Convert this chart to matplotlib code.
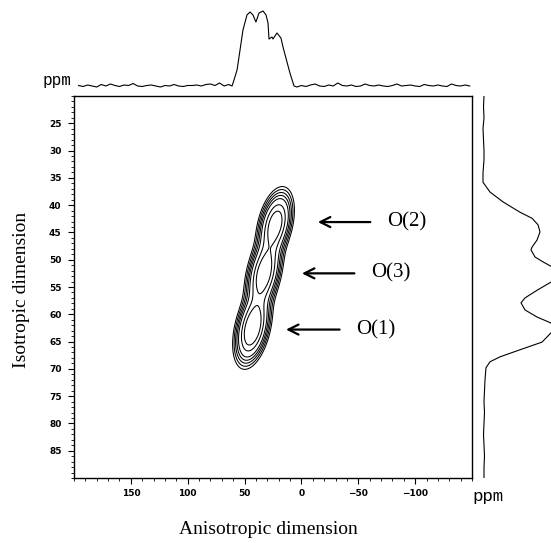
import matplotlib
matplotlib.use("Agg")
import matplotlib.pyplot as plt
import numpy as np
from matplotlib.ticker import MultipleLocator, FixedLocator

# ---- data ------------------------------------------------------------
# 2D ridge: one gaussian site per oxygen (anisotropic ppm, isotropic ppm)
site_names = ["O(1)", "O(2)", "O(3)"]
site_aniso = [43.0, 23.0, 33.0]
site_iso = [62.5, 43.5, 52.5]
site_amp = [1.0, 0.85, 0.9]
site_width_aniso = [6.8, 6.8, 6.8]
site_width_iso = [3.2, 3.0, 3.3]
ridge_shear = 0.9
contour_levels = [0.06, 0.09, 0.13, 0.18, 0.25, 0.42, 0.62]

# labels: arrow tail / head (aniso ppm) and isotropic position
label_iso = [62.8, 43.1, 52.5]
arrow_tail = [-36, -63, -49]
arrow_head = [16, -12, 2]

# top projection (anisotropic dimension), intensity in arbitrary units
top_ppm = [196, 192, 188, 184, 180, 176, 172, 168, 164, 160, 156, 152, 148,
           144, 140, 136, 132, 128, 124, 120, 116, 112, 108, 104, 100, 96,
           92, 88, 84, 80, 76, 72, 68, 64, 61,
           59.3, 56.6, 54, 51.4, 47.9, 45.2, 42.6, 40, 37.3, 33.8, 31.1,
           29.4, 28.5, 25.9, 25, 21.5, 18, 16.2, 12.7, 10.1, 6.5, 3.9,
           0, -4, -8, -12, -16, -20, -24, -28, -32, -36, -40, -44, -48, -52,
           -56, -60, -64, -68, -72, -76, -80, -84, -88, -92, -96, -100, -104,
           -108, -112, -116, -120, -124, -128, -132, -136, -140, -144, -148]
top_int = [0.5, -0.5, 1, 0, -1, 1.5, 0, 2, 0.5, -0.5, 1, 0.5, 2.5,
           0, -0.5, 0.5, 1, 0, -1, 0.5, 0, 1.5, 0, -0.5, 0.5, 0.5,
           1, 0, 1.5, 2, 0.5, 3, 0, 1.5, 0,
           6, 16, 36, 56, 71, 74, 71, 64, 73, 75, 71,
           63, 47, 49, 47, 53, 48, 39, 24, 13, 0, -1,
           0.5, -0.5, 1, 2, 0, -0.5, 1, 0, 3, 0.5, 0, 1, -0.5, 0,
           2, 0.5, 0, 1, 0, -0.5, 0.5, 2, 0, 0.5, 1, 0, -0.5,
           1.5, 0.5, 0, 1, 0, -0.5, 2, 0.5, 0, 1, 0]

# right projection (isotropic dimension)
right_ppm = [20, 22, 24, 26, 28, 30, 31.7, 34.1, 35.8, 37.6, 39.4, 41.3,
             42.4, 43.6, 44.9, 46.4, 47.7, 48.2, 49.5, 50.4, 51.2, 52.7,
             54.1, 55.6, 57.0, 57.9, 59.2, 60.5, 61.6, 62.5, 63.4, 65.1,
             66.5, 67.8, 68.7, 69.8, 72, 74, 76, 78, 80, 82, 84, 86, 88, 90]
right_int = [1, 0.5, 1, 0, 0.5, 1, 1, 0, 0, 7, 20, 37,
             49, 55, 57, 54, 49, 48, 52, 60, 68, 80,
             68, 54, 42, 38, 42, 54, 68, 76, 68, 59,
             37, 17, 7, 3, 2, 1.5, 1, 1.5, 1, 0.5, 1, 1.5, 1, 1]

x_ticks = [150, 100, 50, 0, -50, -100]
y_ticks = [25, 30, 35, 40, 45, 50, 55, 60, 65, 70, 75, 80, 85]

# ---- figure ------------------------------------------------------------
W, H = 551, 543
fig = plt.figure(figsize=(W / 100, H / 100), dpi=100)
serif = "Liberation Serif"
mono = "Liberation Mono"

ax = fig.add_axes([74 / W, 1 - 478 / H, 398 / W, 382 / H])

aniso = np.linspace(200, -150, 700)
iso = np.linspace(20, 90, 400)
A, I = np.meshgrid(aniso, iso)
Z = np.zeros_like(A)
for a0, i0, amp, wa, wi in zip(site_aniso, site_iso, site_amp,
                               site_width_aniso, site_width_iso):
    u = (A - a0) - ridge_shear * (I - i0)
    Z += amp * np.exp(-0.5 * (u / wa) ** 2 - 0.5 * ((I - i0) / wi) ** 2)
ax.contour(A, I, Z, levels=contour_levels, colors="black", linewidths=0.75)

for name, yi, t, h in zip(site_names, label_iso, arrow_tail, arrow_head):
    ax.annotate("", xy=(h, yi), xytext=(t, yi),
                arrowprops=dict(arrowstyle="->", color="black", lw=1.6,
                                mutation_scale=18))
    ax.text(t - 12, yi, name, fontsize=15, family=serif,
            ha="left", va="center")

ax.set_xlim(200, -150)
ax.set_ylim(90, 20)
ax.xaxis.set_major_locator(FixedLocator(x_ticks))
ax.xaxis.set_minor_locator(MultipleLocator(10))
ax.yaxis.set_major_locator(FixedLocator(y_ticks))
ax.yaxis.set_minor_locator(MultipleLocator(1))
ax.set_xticklabels([f"{v}".replace("-", "\u2212") for v in x_ticks])
ax.tick_params(which="major", direction="out", length=4, width=0.8,
               labelsize=6.5, pad=5)
ax.tick_params(axis="x", which="major", pad=4)
ax.tick_params(which="minor", direction="out", length=2, width=0.6)
for lab in ax.get_xticklabels() + ax.get_yticklabels():
    lab.set_fontweight("bold")
for s in ax.spines.values():
    s.set_linewidth(1.0)

# top projection
ax_top = fig.add_axes([74 / W, 1 - 96 / H, 398 / W, 96 / H])
ax_top.plot(top_ppm, top_int, color="black", lw=0.8)
ax_top.set_xlim(200, -150)
ax_top.set_ylim(-10, 86)
ax_top.axis("off")

# right projection (runs off the figure edge as in the reference)
ax_r = fig.add_axes([478 / W, 1 - 478 / H, 300 / W, 382 / H])
ax_r.plot(right_int, right_ppm, color="black", lw=0.8)
ax_r.set_xlim(-5, 295)
ax_r.set_ylim(90, 20)
ax_r.axis("off")

fig.text(43 / W, 1 - 80 / H, "ppm", family=mono, fontsize=11.5,
         ha="left", va="center")
fig.text(472 / W, 1 - 497 / H, "ppm", family=mono, fontsize=12.5,
         ha="left", va="center")
fig.text(268 / W, 1 - 530 / H, "Anisotropic dimension", family=serif,
         fontsize=14, ha="center", va="center")
fig.text(22 / W, 1 - 290 / H, "Isotropic dimension", family=serif,
         fontsize=14, ha="center", va="center", rotation=90)

fig.savefig("out.png", dpi=100)
